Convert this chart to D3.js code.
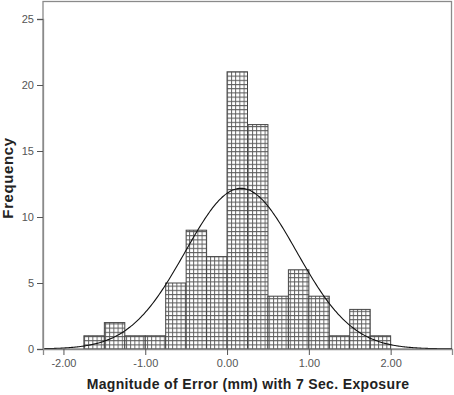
<!DOCTYPE html>
<html>
<head>
<meta charset="utf-8">
<script src="https://cdn.jsdelivr.net/npm/d3@7"></script>
<style>
  body { margin: 0; background: #fff; }
  text { font-family: Arial, "Liberation Sans", sans-serif; }
</style>
</head>
<body>
<script>
const width = 454;
const height = 395;

// histogram bins (lower edge, 0.25 wide) and counts
const binStarts = [-1.75, -1.5, -1.25, -1.0, -0.75, -0.5, -0.25, 0, 0.25, 0.5, 0.75, 1.0, 1.25, 1.5, 1.75];
const counts = [1, 2, 1, 1, 5, 9, 7, 21, 17, 4, 6, 4, 1, 3, 1];
const binWidth = 0.25;
// normal curve parameters (SPSS overlay)
const curveMean = 0.17;
const curveSd = 0.68;
const xTicks = [-2, -1, 0, 1, 2];
const yTicks = [0, 5, 10, 15, 20, 25];

const margin = {left: 43, right: 2, top: 2, bottom: 46};

const x = d3.scaleLinear()
    .domain([-2.25, 2.75])
    .range([margin.left, width - margin.right]);
const y = d3.scaleLinear()
    .domain([0, 25])
    .range([349, 19]);

const svg = d3.select("body").append("svg")
    .attr("width", width)
    .attr("height", height);

// grid hatch fill
const pat = svg.append("defs").append("pattern")
    .attr("id", "grid")
    .attr("patternUnits", "userSpaceOnUse")
    .attr("width", 4.2)
    .attr("height", 4.2);
pat.append("rect").attr("width", 4.2).attr("height", 4.2).attr("fill", "#fff");
pat.append("path")
    .attr("d", "M0,0.5H4.2M0.5,0V4.2")
    .attr("stroke", "#5a5a5a")
    .attr("stroke-width", 0.9);

// plot box
svg.append("rect")
    .attr("x", x(-2.25))
    .attr("y", 1.5)
    .attr("width", x(2.75) - x(-2.25) - 0.5)
    .attr("height", y(0) - 1.5)
    .attr("fill", "none")
    .attr("stroke", "#8a8a8a")
    .attr("stroke-width", 1.3);

// bars
svg.append("g")
  .selectAll("rect")
  .data(counts)
  .join("rect")
    .attr("x", (d, i) => x(binStarts[i]))
    .attr("y", d => y(d))
    .attr("width", (d, i) => x(binStarts[i] + binWidth) - x(binStarts[i]))
    .attr("height", d => y(0) - y(d))
    .attr("fill", "url(#grid)")
    .attr("stroke", "#444")
    .attr("stroke-width", 1);

// normal curve
const n = d3.sum(counts);
const curvePts = d3.range(-2.25, 2.7501, 0.02).map(v => [v,
    n * binWidth / (curveSd * Math.sqrt(2 * Math.PI)) *
    Math.exp(-0.5 * Math.pow((v - curveMean) / curveSd, 2))]);
svg.append("path")
    .datum(curvePts)
    .attr("fill", "none")
    .attr("stroke", "#111")
    .attr("stroke-width", 1.1)
    .attr("d", d3.line().x(d => x(d[0])).y(d => y(d[1])).curve(d3.curveBasis));

// axes
const xAxis = svg.append("g")
    .attr("transform", `translate(0,${y(0)})`)
    .call(d3.axisBottom(x).tickValues(xTicks).tickFormat(d => d.toFixed(2)).tickSize(6).tickPadding(4));
const yAxis = svg.append("g")
    .attr("transform", `translate(${x(-2.25)},0)`)
    .call(d3.axisLeft(y).tickValues(yTicks).tickSize(6).tickPadding(3));

[xAxis, yAxis].forEach(a => {
  a.select(".domain").attr("stroke", "#8a8a8a").attr("stroke-width", 1.3);
  a.selectAll(".tick line").attr("stroke", "#555");
  a.selectAll(".tick text")
      .attr("fill", "#555")
      .style("font-size", "11px")
      .style("font-family", "Arial, 'Liberation Sans', sans-serif");
});

svg.append("text")
    .attr("x", 248)
    .attr("y", 389)
    .attr("text-anchor", "middle")
    .attr("font-weight", "bold")
    .attr("font-size", 14)
    .attr("letter-spacing", 0.35)
    .attr("fill", "#222")
    .text("Magnitude of Error (mm) with 7 Sec. Exposure");

svg.append("text")
    .attr("transform", "translate(13,178) rotate(-90)")
    .attr("text-anchor", "middle")
    .attr("font-weight", "bold")
    .attr("font-size", 15)
    .attr("letter-spacing", 0.6)
    .attr("fill", "#222")
    .text("Frequency");
</script>
</body>
</html>
